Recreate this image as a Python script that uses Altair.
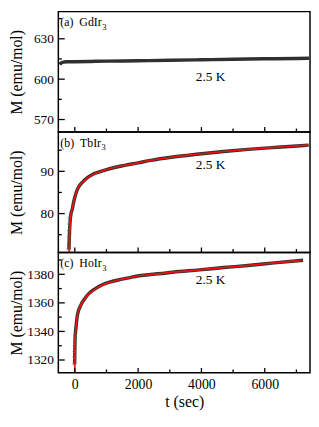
import altair as alt
import pandas as pd

# ---------------- data ----------------
# (a) GdIr3 : measured data only
t_a = [-470, -440, -400, -340, -250, 0, 500, 1000, 2000, 3000, 4000, 5000, 6000, 7000, 7400]
m_a = [610.8, 611.8, 612.4, 612.7, 612.9, 613.0, 613.2, 613.4, 613.7, 614.0, 614.4, 614.8, 615.1, 615.4, 615.5]

# (b) TbIr3 : measured data, scattered early points, fit
t_b = [-185, -175, -165, -150, -120, -80, -40, 0, 50, 120, 237, 400, 545, 750, 954, 1250, 1570,
       2000, 2393, 3100, 3930, 4700, 5470, 6400, 7385]
m_b = [71.5, 74.0, 76.0, 78.0, 80.0, 81.0, 82.6, 83.8, 85.1, 86.3, 87.4, 88.5, 89.2, 89.8, 90.3,
       90.9, 91.4, 92.0, 92.6, 93.4, 94.1, 94.7, 95.2, 95.7, 96.2]
tp_b = [-200, -190, -182, -176, -170]
mp_b = [71.6, 74.5, 76.0, 77.5, 79.0]
tf_b = [-172, -165, -150, -120, -80, -40, 0, 50, 120, 237, 400, 545, 750, 954, 1250, 1570,
        2000, 2393, 3100, 3930, 4700, 5470, 6400, 7385]
mf_b = [70.8, 74.5, 77.5, 80.0, 81.0, 82.6, 83.8, 85.1, 86.3, 87.4, 88.4, 89.1, 89.8, 90.3,
        90.9, 91.4, 92.0, 92.6, 93.4, 94.1, 94.7, 95.2, 95.7, 96.2]

# (c) HoIr3 : measured data, scattered early points, fit
t_c = [-5, 0, 5, 10, 20, 40, 83, 186, 300, 443, 650, 852, 1100, 1366, 1700, 1982, 2393,
       3100, 3930, 4700, 5470, 6300, 7210]
m_c = [1317, 1326, 1332, 1336, 1339, 1343.5, 1351.5, 1358.2, 1362.5, 1366.5, 1370, 1372.5,
       1374.5, 1376, 1377.5, 1378.8, 1379.8, 1381.5, 1383.1, 1384.7, 1386.2, 1388, 1389.9]
tp_c = [-18, -14, -10, -6, -2, 2]
mp_c = [1317.1, 1322, 1326, 1330, 1334, 1337]
tf_c = [0, 3, 8, 15, 30, 50, 83, 186, 300, 443, 650, 852, 1100, 1366, 1700, 1982, 2393,
        3100, 3930, 4700, 5470, 6300, 7160]
mf_c = [1311, 1322, 1332, 1337, 1341, 1345.5, 1351.5, 1358.2, 1362.5, 1366.3, 1369.8, 1372.3,
        1374.3, 1376, 1377.5, 1378.8, 1379.8, 1381.5, 1383.1, 1384.7, 1386.2, 1388, 1389.8]

# axes / ticks
x_domain = [-520, 7430]
x_major = [0, 2000, 4000, 6000]
x_minor = [1000, 3000, 5000, 7000]

ydom_a = [560.7, 650.2]
ymaj_a = [570, 600, 630]
ymin_a = [585, 615, 645]
ydom_b = [70.8, 99.3]
ymaj_b = [80, 90]
ymin_b = [75, 85, 95]
ydom_c = [1311, 1395.3]
ymaj_c = [1320, 1340, 1360, 1380]
ymin_c = [1330, 1350, 1370, 1390]

NB = "\u00a0"
labels = ["(a)" + NB + NB + "GdIr", "(b)" + NB + NB + "TbIr", "(c)" + NB + NB + "HoIr"]
temp_label = "2.5 K"
temp_t = 4290
temp_m = [601.9, 91.6, 1375.8]

FONT = "Liberation Serif"
W = 255
H = 122


def panel(label, sub_x, t_d, m_d, t_p, m_p, t_f, m_f, ydom, ymaj, ymin, tm, show_x):
    xscale = alt.Scale(domain=x_domain, nice=False, zero=False)
    yscale = alt.Scale(domain=ydom, nice=False, zero=False)
    if show_x:
        xaxis = alt.Axis(values=x_major, format="d", title="t (sec)", ticks=False, domain=False,
                         grid=False, labelFont=FONT, labelFontSize=14, labelColor="black",
                         labelPadding=5, titleFont=FONT, titleFontSize=16, titleFontWeight="normal",
                         titleColor="black", titlePadding=2)
    else:
        xaxis = None
    yaxis = alt.Axis(values=ymaj, format="d", title="M (emu/mol)", ticks=False, domain=False, grid=False,
                     labelFont=FONT, labelFontSize=13.5, labelColor="black", labelPadding=5,
                     titleFont=FONT, titleFontSize=16, titleFontWeight="normal", titleColor="black",
                     titlePadding=4, minExtent=30, maxExtent=30)
    X = alt.X("t:Q", scale=xscale, axis=xaxis)
    Y = alt.Y("M:Q", scale=yscale, axis=yaxis)

    layers = []
    d = pd.DataFrame({"t": t_d, "M": m_d})
    layers.append(alt.Chart(d).mark_line(color="#303030", strokeWidth=3.5, interpolate="monotone",
                                         clip=True).encode(x=X, y=Y))
    if t_p:
        p = pd.DataFrame({"t": t_p, "M": m_p})
        layers.append(alt.Chart(p).mark_point(shape="circle", filled=False, size=10, color="#888888",
                                              strokeWidth=0.8, clip=True).encode(x=X, y=Y))
    if t_f:
        f = pd.DataFrame({"t": t_f, "M": m_f})
        layers.append(alt.Chart(f).mark_line(color="#ee1111", strokeWidth=1.7, interpolate="monotone",
                                             clip=True).encode(x=X, y=Y))
    # inward ticks (left)
    layers.append(alt.Chart(pd.DataFrame({"M": ymaj})).mark_rule(color="black", strokeWidth=1.3)
                  .encode(y=Y, x=alt.value(0), x2=alt.value(6.5)))
    layers.append(alt.Chart(pd.DataFrame({"M": ymin})).mark_rule(color="black", strokeWidth=1.3)
                  .encode(y=Y, x=alt.value(0), x2=alt.value(3.5)))
    # inward ticks (bottom)
    layers.append(alt.Chart(pd.DataFrame({"t": x_major})).mark_rule(color="black", strokeWidth=1.3)
                  .encode(x=X, y=alt.value(H), y2=alt.value(H - 5)))
    layers.append(alt.Chart(pd.DataFrame({"t": x_minor})).mark_rule(color="black", strokeWidth=1.3)
                  .encode(x=X, y=alt.value(H), y2=alt.value(H - 3.5)))
    # temperature annotation
    layers.append(alt.Chart(pd.DataFrame({"t": [temp_t], "M": [tm], "txt": [temp_label]}))
                  .mark_text(font=FONT, fontSize=13.5, color="black", align="center", baseline="middle")
                  .encode(x=X, y=Y, text="txt:N"))
    # panel label with subscript
    layers.append(alt.Chart(pd.DataFrame({"txt": [label]}))
                  .mark_text(font=FONT, fontSize=12, color="black", align="left", baseline="alphabetic")
                  .encode(x=alt.value(2), y=alt.value(15), text="txt:N"))
    layers.append(alt.Chart(pd.DataFrame({"txt": ["3"]}))
                  .mark_text(font=FONT, fontSize=8.5, color="black", align="left", baseline="alphabetic")
                  .encode(x=alt.value(sub_x), y=alt.value(18.5), text="txt:N"))
    return alt.layer(*layers).properties(width=W, height=H)


pa = panel(labels[0], 44.4, t_a, m_a, [], [], [], [], ydom_a, ymaj_a, ymin_a, temp_m[0], False)
pb = panel(labels[1], 43.7, t_b, m_b, tp_b, mp_b, tf_b, mf_b, ydom_b, ymaj_b, ymin_b, temp_m[1], False)
pc = panel(labels[2], 44.4, t_c, m_c, tp_c, mp_c, tf_c, mf_c, ydom_c, ymaj_c, ymin_c, temp_m[2], True)

chart = (
    alt.vconcat(pa, pb, pc, spacing=0, bounds="flush")
    .properties(padding={"left": 0, "top": 0, "right": 0, "bottom": 0}, background="white")
    .configure_view(stroke="black", strokeWidth=1.5)
)

chart.save("out.html", embed_options={"renderer": "svg", "actions": False})
